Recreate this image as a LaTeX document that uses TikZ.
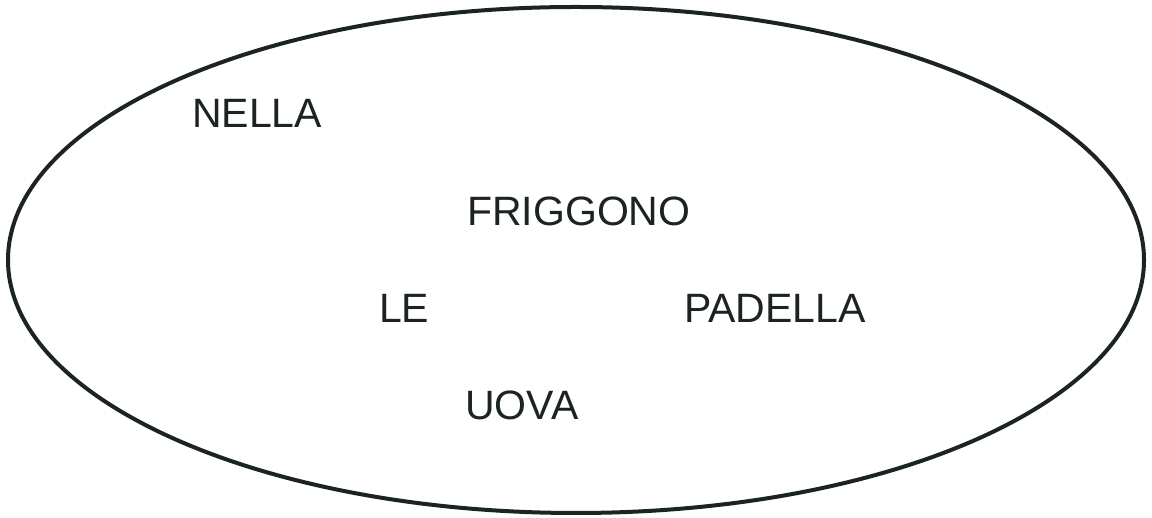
\documentclass[tikz,border=0pt]{standalone}
\usepackage{fontspec}
\setmainfont{Liberation Sans}
\definecolor{ink}{HTML}{1C2421}
\begin{document}
\begin{tikzpicture}[x=1pt,y=1pt,
  word/.style={inner sep=0pt,anchor=base west,text=ink,font=\fontsize{41}{48}\selectfont}]
\useasboundingbox (0,0) rectangle (1152,518);
\fill[white] (0,0) rectangle (1152,518);
\draw[ink,line width=4pt] (576,258) ellipse [x radius=568, y radius=253];
\node[word] (nella) at (192,390) {NELLA};
\node[word] (friggono) at (467,292) {FRIGGONO};
\node[word] (le) at (379,195) {LE};
\node[word] (padella) at (684,195) {PADELLA};
\node[word] (uova) at (465,98) {UOVA};
\end{tikzpicture}
\end{document}
